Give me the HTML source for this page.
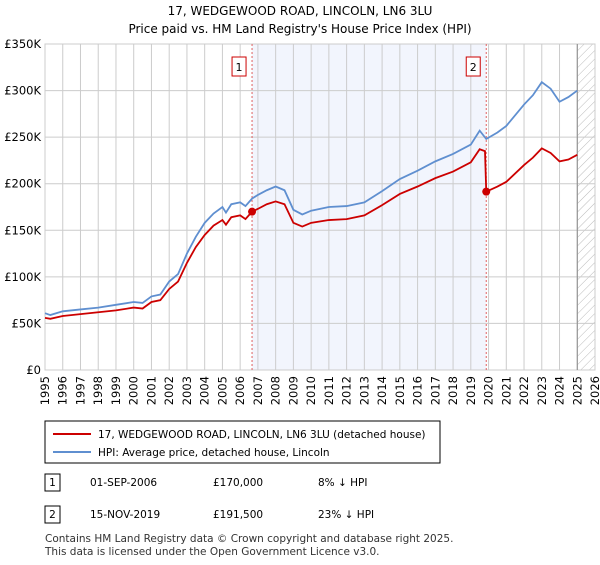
<!DOCTYPE html>
<html><head><meta charset="utf-8"><style>
body{margin:0;width:600px;height:560px;background:#fff;font-family:"Liberation Sans","DejaVu Sans",sans-serif;color:#000;overflow:hidden}
svg text{font-family:"DejaVu Sans","Liberation Sans",sans-serif}
</style></head><body>
<svg width="600" height="560">
<defs><pattern id="hatch" width="6" height="6" patternUnits="userSpaceOnUse" patternTransform="rotate(45)"><line x1="0" y1="0" x2="0" y2="6" stroke="#bbb" stroke-width="1"/></pattern></defs>
<text x="300" y="15" text-anchor="middle" font-size="12">17, WEDGEWOOD ROAD, LINCOLN, LN6 3LU</text>
<text x="300" y="33" text-anchor="middle" font-size="12">Price paid vs. HM Land Registry's House Price Index (HPI)</text>
<g id="plot"></g>
<g>
<rect x="45" y="421" width="395" height="42" fill="#fff" stroke="#000"/>
<line x1="53" y1="434" x2="91" y2="434" stroke="#cc0000" stroke-width="2"/>
<text x="98" y="438" font-size="10.5">17, WEDGEWOOD ROAD, LINCOLN, LN6 3LU (detached house)</text>
<line x1="53" y1="452" x2="91" y2="452" stroke="#5f8fd0" stroke-width="2"/>
<text x="98" y="456" font-size="10.5">HPI: Average price, detached house, Lincoln</text>
</g>
<g font-size="10.5">
<rect x="45" y="474" width="15" height="17" fill="#fff" stroke="#000"/><text x="52.5" y="486" text-anchor="middle">1</text>
<text x="90" y="486">01-SEP-2006</text><text x="213" y="486">£170,000</text><text x="318" y="486">8% ↓ HPI</text>
<rect x="45" y="506" width="15" height="17" fill="#fff" stroke="#000"/><text x="52.5" y="518" text-anchor="middle">2</text>
<text x="90" y="518">15-NOV-2019</text><text x="213" y="518">£191,500</text><text x="318" y="518">23% ↓ HPI</text>
</g>
<text x="45" y="542" font-size="10.5" fill="#333">Contains HM Land Registry data © Crown copyright and database right 2025.</text>
<text x="45" y="555" font-size="10.5" fill="#333">This data is licensed under the Open Government Licence v3.0.</text>
</svg>
<script>
const hpiYears=[1995,1995.3,1996,1997,1998,1999,2000,2000.5,2001,2001.5,2002,2002.5,2003,2003.5,2004,2004.5,2005,2005.2,2005.5,2006,2006.3,2006.67,2007,2007.5,2008,2008.5,2009,2009.5,2010,2011,2012,2013,2014,2015,2016,2017,2018,2019,2019.5,2019.87,2020.5,2021,2022,2022.5,2023,2023.5,2024,2024.5,2025];
const hpiValues=[61,59,63,65,67,70,73,72,79,81,95,103,125,143,158,168,175,169,178,180,176,184,188,193,197,193,172,167,171,175,176,180,192,205,214,224,232,242,257,248,255,262,285,295,309,302,288,293,300];
const priceYears=[1995,1995.3,1996,1997,1998,1999,2000,2000.5,2001,2001.5,2002,2002.5,2003,2003.5,2004,2004.5,2005,2005.2,2005.5,2006,2006.3,2006.67,2007,2007.5,2008,2008.5,2009,2009.5,2010,2011,2012,2013,2014,2015,2016,2017,2018,2019,2019.5,2019.8,2019.87,2020.5,2021,2022,2022.5,2023,2023.5,2024,2024.5,2025];
const priceValues=[56,55,58,60,62,64,67,66,73,75,87,95,115,132,145,155,161,156,164,166,162,170,173,178,181,178,158,154,158,161,162,166,177,189,197,206,213,223,237,235,191.5,197,202,220,228,238,233,224,226,231];
const saleYears=[2006.67,2019.87];
const saleValues=[170,191.5];
const saleLabels=["1","2"];
const yTicks=[0,50,100,150,200,250,300,350];
const yTickLabels=["£0","£50K","£100K","£150K","£200K","£250K","£300K","£350K"];
const xTicks=[1995,1996,1997,1998,1999,2000,2001,2002,2003,2004,2005,2006,2007,2008,2009,2010,2011,2012,2013,2014,2015,2016,2017,2018,2019,2020,2021,2022,2023,2024,2025,2026];

const X0=45,X1=595,Y0=370,Y1=44,xmin=1995,xmax=2026,ymax=350;
const sx=v=>X0+(v-xmin)/(xmax-xmin)*(X1-X0);
const sy=v=>Y0-v/ymax*(Y0-Y1);
const NS="http://www.w3.org/2000/svg";
const g=document.getElementById('plot');
function el(t,a,p){const e=document.createElementNS(NS,t);for(const k in a)e.setAttribute(k,a[k]);(p||g).appendChild(e);return e;}

const shade=el('rect',{x:sx(saleYears[0]),y:Y1,width:sx(saleYears[1])-sx(saleYears[0]),height:Y0-Y1,fill:'#f2f5fd'});


const hat=el('rect',{x:sx(2025),y:Y1,width:X1-sx(2025),height:Y0-Y1,fill:'url(#hatch)'});



xTicks.forEach(v=>{
  const l=el('line',{x1:sx(v),y1:Y1,x2:sx(v),y2:Y0,stroke:'#ccc','stroke-width':1});
  
  
  const t=el('text',{x:0,y:0,'font-size':11.5,'text-anchor':'end',transform:`translate(${sx(v)+4},${Y0+6}) rotate(-90)`});
  t.textContent=v;
  
  
});
yTicks.forEach((v,i)=>{
  const l=el('line',{x1:X0,y1:sy(v),x2:X1,y2:sy(v),stroke:'#ccc','stroke-width':1});
  
  
  const t=el('text',{x:X0-4,y:sy(v)+4,'font-size':11.5,'text-anchor':'end'});
  t.textContent=yTickLabels[i];
  
  
});
el('rect',{x:X0,y:Y1,width:X1-X0,height:Y0-Y1,fill:'none',stroke:'#ccc'});
el('line',{x1:sx(2025),y1:Y1,x2:sx(2025),y2:Y0,stroke:'#888','stroke-width':1});

saleYears.forEach((v,i)=>{
  const l=el('line',{x1:sx(v),y1:Y1,x2:sx(v),y2:Y0,stroke:'#e06060','stroke-width':1,'stroke-dasharray':'2,2'});
  
  
  const b=el('rect',{x:sx(v)-20,y:57,width:14,height:19,fill:'#fff',stroke:'#cc0000'});
  
  
  const t=el('text',{x:sx(v)-13,y:71,'font-size':11,'text-anchor':'middle'});
  t.textContent=saleLabels[i];
  
  
});

const hp=el('polyline',{points:hpiYears.map((y,i)=>sx(y)+','+sy(hpiValues[i])).join(' '),fill:'none',stroke:'#5f8fd0','stroke-width':1.8});


const pp=el('polyline',{points:priceYears.map((y,i)=>sx(y)+','+sy(priceValues[i])).join(' '),fill:'none',stroke:'#cc0000','stroke-width':1.8});


saleYears.forEach((v,i)=>{
  const c=el('circle',{cx:sx(v),cy:sy(saleValues[i]),r:4,fill:'#cc0000'});
  
  
});
</script>
</body></html>
